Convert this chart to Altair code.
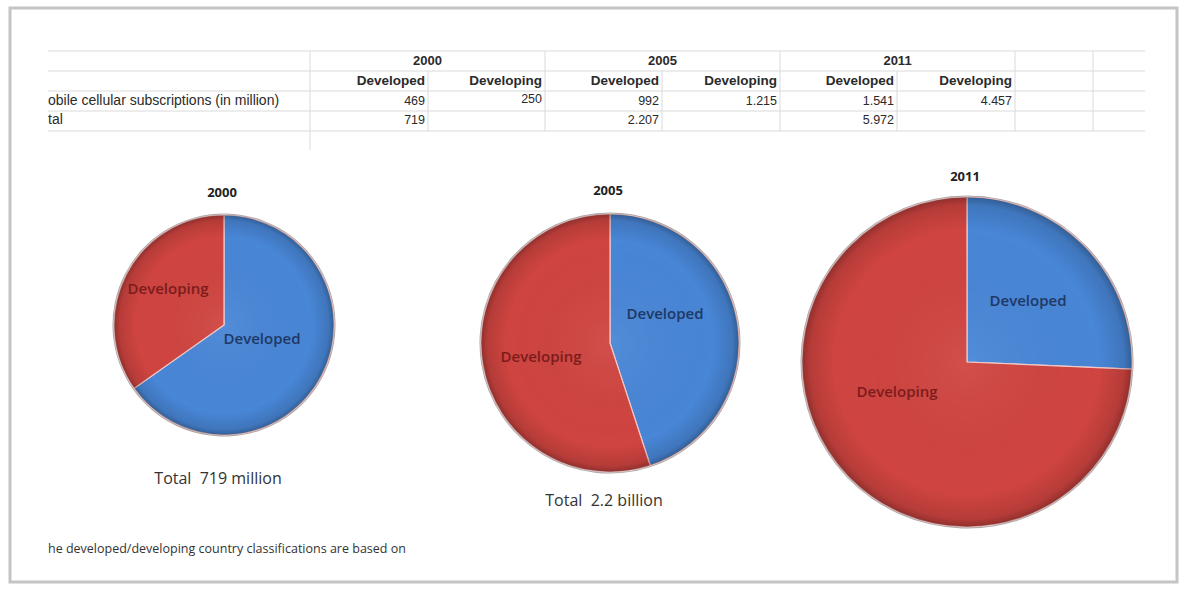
import altair as alt
import pandas as pd

W, H = 1190, 589

# ---------------- data ----------------
years = ["2000", "2005", "2011"]
developed = [469, 992, 1541]
developing = [250, 1215, 4457]
totals = [719, 2207, 5972]
groups = ["Developed", "Developing"]
row_labels = ["obile cellular subscriptions (in million)", "tal"]
total_captions = ["Total\u00a0 719 million", "Total\u00a0 2.2 billion"]
footnote = "he developed/developing country classifications are based on"

# ---------------- layout (positions / sizes / styles) ----------------
table_left, table_right = 48, 1145
col_edges = [310, 428, 545, 662, 780, 897, 1015, 1093, 1145]
row_lines = [51, 71, 91, 111, 131]
row_text_y = [61, 81, 101, 120]
pie_cx = [224, 610, 967]
pie_cy = [325, 343, 362]
pie_r = [110, 129, 165]
title_y = [193, 191, 177]
caption_pos = [(218, 479), (604, 501)]
dev_label_pos = [(262, 339), (665, 314), (1028, 301)]
dvg_label_pos = [(168, 289), (541, 357), (897, 392)]
BLUE, RED = "#4886d6", "#cf4440"
BLUE_TXT, RED_TXT = "#1f3864", "#7b1c1c"
GRID = "#dadada"

xs = alt.Scale(domain=[0, W], nice=False, zero=False)
ys = alt.Scale(domain=[0, H], nice=False, zero=False, reverse=True)
X = lambda f: alt.X(f, type="quantitative", scale=xs, axis=None)
Y = lambda f: alt.Y(f, type="quantitative", scale=ys, axis=None)


def fmt(v):
    return f"{v:,}".replace(",", ".")


# ---------------- frame ----------------
frame_df = pd.DataFrame([{"x": 10, "x2": 1177, "y": 8, "y2": 582}])
frame = alt.Chart(frame_df).mark_rect(fill="white", stroke="#c4c4c4", strokeWidth=3).encode(
    x=X("x"), x2="x2", y=Y("y"), y2="y2")

# ---------------- table grid ----------------
hl = pd.DataFrame([{"x": table_left, "x2": table_right, "y": y} for y in row_lines])
hlines = alt.Chart(hl).mark_rule(color=GRID, strokeWidth=1).encode(x=X("x"), x2="x2", y=Y("y"))

vrows = []
for i, cx in enumerate(col_edges[:-1]):
    top = row_lines[0] if (i in (0, 2, 4, 6, 7)) else row_lines[1]
    bottom = 150 if i == 0 else row_lines[-1]
    vrows.append({"x": cx, "y": top, "y2": bottom})
vl = pd.DataFrame(vrows)
vlines = alt.Chart(vl).mark_rule(color=GRID, strokeWidth=1).encode(x=X("x"), y=Y("y"), y2="y2")

# ---------------- table text ----------------
hdr, body = [], []
for k, yr in enumerate(years):
    hdr.append({"x": (col_edges[2 * k] + col_edges[2 * k + 2]) / 2, "y": row_text_y[0], "t": yr, "a": "center"})
    for j, g in enumerate(groups):
        hdr.append({"x": col_edges[2 * k + j + 1] - 3, "y": row_text_y[1], "t": g, "a": "right"})
    body.append({"x": col_edges[2 * k + 1] - 3, "y": row_text_y[2], "t": fmt(developed[k])})
    body.append({"x": col_edges[2 * k + 2] - 3, "y": row_text_y[2] - (2 if k == 0 else 0), "t": fmt(developing[k])})
    body.append({"x": col_edges[2 * k + 1] - 3, "y": row_text_y[3], "t": fmt(totals[k])})
hdr_df = pd.DataFrame(hdr)
body_df = pd.DataFrame(body)
labels_df = pd.DataFrame([{"x": table_left, "y": row_text_y[2 + i], "t": t} for i, t in enumerate(row_labels)])

tfont = "Liberation Sans"
tcol = "#2a2a2a"
hdr_c = alt.Chart(hdr_df[hdr_df.a == "center"]).mark_text(font=tfont, fontSize=13, fontWeight="bold", color=tcol, align="center", baseline="middle").encode(x=X("x"), y=Y("y"), text="t:N")
hdr_r = alt.Chart(hdr_df[hdr_df.a == "right"]).mark_text(font=tfont, fontSize=13.5, fontWeight="bold", color=tcol, align="right", baseline="middle").encode(x=X("x"), y=Y("y"), text="t:N")
body_t = alt.Chart(body_df).mark_text(font=tfont, fontSize=12.5, color=tcol, align="right", baseline="middle").encode(x=X("x"), y=Y("y"), text="t:N")
lab_t = alt.Chart(labels_df).mark_text(font=tfont, fontSize=14, color=tcol, align="left", baseline="middle").encode(x=X("x"), y=Y("y"), text="t:N")

# ---------------- pies ----------------
shade = {
    "gradient": "radial", "x1": 0.5, "y1": 0.5, "x2": 0.5, "y2": 0.5, "r1": 0, "r2": 0.5,
    "stops": [
        {"offset": 0.0, "color": "rgba(255,255,255,0.06)"},
        {"offset": 0.80, "color": "rgba(0,0,0,0.0)"},
        {"offset": 0.95, "color": "rgba(0,0,0,0.12)"},
        {"offset": 1.0, "color": "rgba(0,0,0,0.30)"},
    ],
}
layers = []
pfont = "Open Sans"
for k, yr in enumerate(years):
    vals = [developed[k], developing[k]]
    tot = sum(vals)
    rows = []
    cum = 0
    for g, v in zip(groups, vals):
        rows.append({"g": g, "v": v, "t0": cum / tot, "t1": (cum + v) / tot,
                     "x": pie_cx[k], "y": pie_cy[k]})
        cum += v
    pdf = pd.DataFrame(rows)
    base = alt.Chart(pdf)
    th = alt.Theta("t0:Q", scale=alt.Scale(domain=[0, 1]))
    rim = base.mark_arc(radius=pie_r[k] + 1.5, color="#4a3a3a", opacity=0.45).encode(
        x=X("x"), y=Y("y"), theta=th, theta2="t1")
    pie = base.mark_arc(radius=pie_r[k], stroke="#f2c9c9", strokeWidth=1.2).encode(
        x=X("x"), y=Y("y"), theta=th, theta2="t1",
        color=alt.Color("g:N", scale=alt.Scale(domain=groups, range=[BLUE, RED]), legend=None))
    disc = pd.DataFrame([{"x": pie_cx[k], "y": pie_cy[k], "t0": 0.0, "t1": 1.0}])
    ov = alt.Chart(disc).mark_arc(radius=pie_r[k], fill=shade, strokeWidth=0).encode(
        x=X("x"), y=Y("y"), theta=th, theta2="t1")
    layers += [rim, pie, ov]

# labels drawn after all pies, fixed colours per group
lab_rows = []
for k in range(len(years)):
    lab_rows.append({"x": dev_label_pos[k][0], "y": dev_label_pos[k][1], "t": groups[0]})
    lab_rows.append({"x": dvg_label_pos[k][0], "y": dvg_label_pos[k][1], "t": groups[1]})
lab_df = pd.DataFrame(lab_rows)
lab_dev = alt.Chart(lab_df[lab_df.t == groups[0]]).mark_text(font=pfont, fontSize=15, fontWeight=600, color=BLUE_TXT, align="center", baseline="middle").encode(x=X("x"), y=Y("y"), text="t:N")
lab_dvg = alt.Chart(lab_df[lab_df.t == groups[1]]).mark_text(font=pfont, fontSize=15, fontWeight=600, color=RED_TXT, align="center", baseline="middle").encode(x=X("x"), y=Y("y"), text="t:N")

titles_df = pd.DataFrame([{"x": pie_cx[k] - 2, "y": title_y[k], "t": yr} for k, yr in enumerate(years)])
titles = alt.Chart(titles_df).mark_text(font=pfont, fontSize=13, fontWeight="bold", color="#222", align="center", baseline="middle").encode(x=X("x"), y=Y("y"), text="t:N")

cap_df = pd.DataFrame([{"x": p[0], "y": p[1], "t": t} for p, t in zip(caption_pos, total_captions)])
caps = alt.Chart(cap_df).mark_text(font=pfont, fontSize=16, color="#333", align="center", baseline="middle").encode(x=X("x"), y=Y("y"), text="t:N")

foot_df = pd.DataFrame([{"x": table_left, "y": 549, "t": footnote}])
foot = alt.Chart(foot_df).mark_text(font=pfont, fontSize=12.5, color="#333", align="left", baseline="middle").encode(x=X("x"), y=Y("y"), text="t:N")

chart = alt.layer(frame, hlines, vlines, hdr_c, hdr_r, body_t, lab_t, *layers, lab_dev, lab_dvg, titles, caps, foot).properties(
    width=W, height=H, autosize=alt.AutoSizeParams(type="none"), padding=0, background="white"
).configure_view(stroke=None)

chart.save("out.html", embed_options={"renderer": "svg", "actions": False})
